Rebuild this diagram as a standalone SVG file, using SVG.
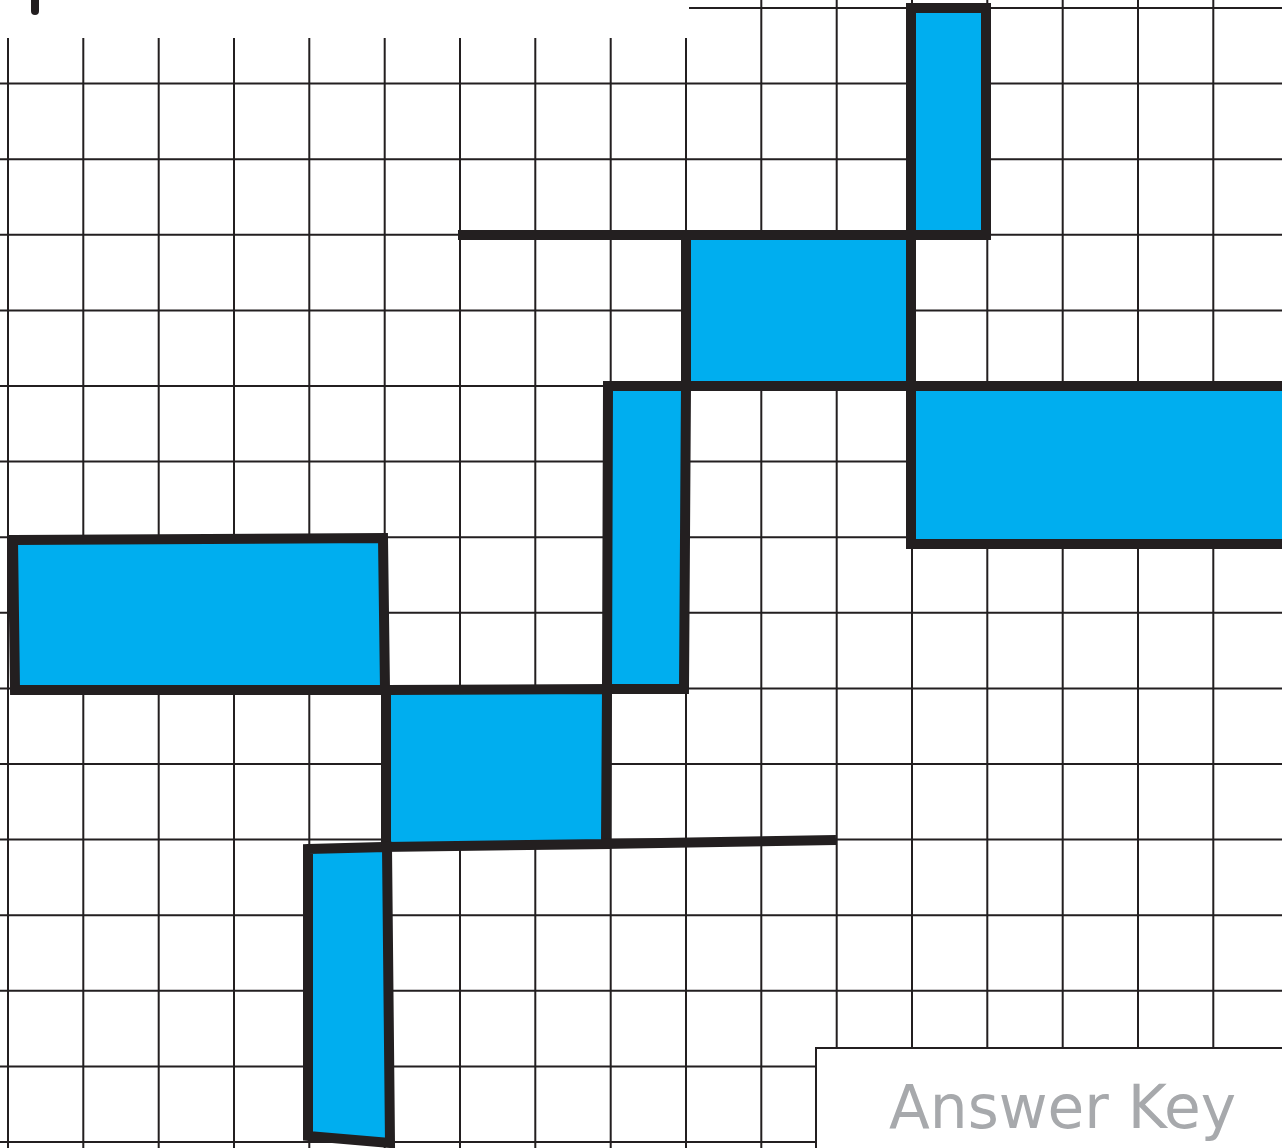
<svg xmlns="http://www.w3.org/2000/svg" width="1282" height="1148" viewBox="0 0 1282 1148">
  <style>
    .grid { stroke: #231f20; stroke-width: 2; fill: none; }
    .shape { fill: #00aeef; stroke: #231f20; stroke-width: 10; stroke-linejoin: miter; }
    .thick { stroke: #231f20; stroke-width: 10; fill: none; stroke-linecap: butt; }
    .label { font-family: "DejaVu Sans", "Liberation Sans", sans-serif; font-size: 60px; fill: #a7a9ac; }
  </style>
  <rect x="0" y="0" width="1282" height="1148" fill="#ffffff"/>
  <g id="grid" class="grid">
    <path d="M8,38V1148 M83.3,38V1148 M158.7,38V1148 M234,38V1148 M309.3,38V1148 M384.7,38V1148 M460,38V1148 M535.3,38V1148 M610.7,38V1148 M686,38V1148 M761.3,0V1148 M836.7,0V1048 M912,0V1048 M987.3,0V1048 M1062.7,0V1048 M1138,0V1048 M1213.3,0V1048"/>
    <path d="M689,8H1282 M0,83.6H1282 M0,159.2H1282 M0,234.8H1282 M0,310.4H1282 M0,386H1282 M0,461.6H1282 M0,537.2H1282 M0,612.8H1282 M0,688.4H1282 M0,764H1282 M0,839.6H1282 M0,915.2H1282 M0,990.8H1282 M0,1066.4H816 M0,1142H816"/>
  </g>
  <line id="top-mark" x1="35" y1="-6" x2="35" y2="11" stroke="#231f20" stroke-width="8" stroke-linecap="round"/>
  <g id="shapes">
    <polygon id="rect-top" class="shape" points="911,8 986,8 986,235 911,235"/>
    <polygon id="rect-upper-mid" class="shape" points="686,235 911,235 911,386 686,386"/>
    <polygon id="rect-right" class="shape" points="911,386 1295,386 1295,544 911,544"/>
    <polygon id="rect-tall" class="shape" points="608,386 686,386 684,689 607,689"/>
    <polygon id="rect-left" class="shape" points="13,540 383,538 385,690 15,690"/>
    <polygon id="rect-middle" class="shape" points="386,690 607,689 606,844 386,847"/>
    <polygon id="rect-bottom" class="shape" points="308,849 387,847 390,1143 308,1136"/>
  </g>
  <g id="connectors">
    <line class="thick" x1="458" y1="235" x2="690" y2="235"/>
    <line class="thick" x1="602" y1="844" x2="836" y2="840"/>
  </g>
  <g id="answer-key">
    <rect x="816" y="1048" width="480" height="120" fill="#ffffff" stroke="#231f20" stroke-width="2"/>
    <text class="label" x="889" y="1128" textLength="347" lengthAdjust="spacingAndGlyphs">Answer Key</text>
  </g>
</svg>
